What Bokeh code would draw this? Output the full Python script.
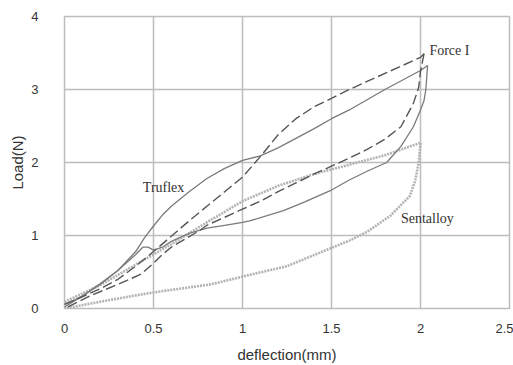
from bokeh.plotting import figure
from bokeh.models import FixedTicker, Label, Range1d
from bokeh.embed import file_html
from bokeh.resources import INLINE

# Truflex (solid) - loading then unloading
truflex_load_x = [0.0, 0.1, 0.2, 0.3, 0.4, 0.45, 0.5, 0.55, 0.6, 0.7, 0.8, 0.9, 1.0, 1.1, 1.2, 1.3, 1.4, 1.5, 1.6, 1.7, 1.8, 1.9, 2.0, 2.04]
truflex_load_y = [0.05, 0.17, 0.33, 0.52, 0.78, 0.97, 1.13, 1.28, 1.4, 1.6, 1.78, 1.92, 2.03, 2.09, 2.2, 2.33, 2.46, 2.6, 2.72, 2.86, 3.0, 3.13, 3.26, 3.33]
truflex_unload_x = [2.04, 2.03, 2.02, 2.0, 1.96, 1.89, 1.81, 1.7, 1.6, 1.49, 1.35, 1.23, 1.04, 1.0, 0.9, 0.8, 0.7, 0.6, 0.55, 0.5, 0.47, 0.44, 0.4, 0.3, 0.2, 0.1, 0.0]
truflex_unload_y = [3.33, 3.0, 2.85, 2.72, 2.49, 2.22, 2.0, 1.88, 1.76, 1.61, 1.46, 1.34, 1.2, 1.18, 1.14, 1.1, 1.03, 0.92, 0.84, 0.8, 0.84, 0.84, 0.74, 0.52, 0.34, 0.17, 0.02]

# Force I (dashed)
force_load_x = [0.0, 0.1, 0.2, 0.3, 0.4, 0.5, 0.6, 0.7, 0.8, 0.9, 1.0, 1.1, 1.2, 1.3, 1.4, 1.5, 1.6, 1.7, 1.8, 1.9, 2.0, 2.02]
force_load_y = [0.06, 0.16, 0.27, 0.4, 0.58, 0.78, 0.99, 1.2, 1.4, 1.6, 1.8, 2.08, 2.38, 2.6, 2.76, 2.88, 3.0, 3.11, 3.22, 3.33, 3.44, 3.49]
force_unload_x = [2.02, 2.0, 1.99, 1.96, 1.89, 1.8, 1.7, 1.6, 1.5, 1.4, 1.3, 1.2, 1.1, 1.0, 0.9, 0.8, 0.76, 0.69, 0.6, 0.55, 0.5, 0.43, 0.3, 0.15, 0.0]
force_unload_y = [3.49, 3.25, 3.03, 2.81, 2.49, 2.32, 2.18, 2.06, 1.95, 1.84, 1.72, 1.6, 1.47, 1.36, 1.25, 1.14, 1.07, 0.97, 0.84, 0.74, 0.62, 0.47, 0.33, 0.18, 0.0]

# Sentalloy (dotted)
sent_load_x = [0.0, 0.2, 0.4, 0.5, 0.6, 0.8, 1.0, 1.2, 1.4, 1.6, 1.8, 2.0]
sent_load_y = [0.09, 0.32, 0.6, 0.74, 0.88, 1.18, 1.47, 1.68, 1.84, 1.97, 2.1, 2.27]
sent_unload_x = [2.0, 1.99, 1.97, 1.94, 1.83, 1.7, 1.6, 1.49, 1.25, 1.04, 0.82, 0.5, 0.26, 0.0]
sent_unload_y = [2.27, 2.0, 1.75, 1.54, 1.27, 1.05, 0.93, 0.82, 0.58, 0.46, 0.33, 0.22, 0.12, 0.0]

x_ticks = [0, 0.5, 1, 1.5, 2, 2.5]
x_tick_labels = ["0", "0.5", "1", "1.5", "2", "2.5"]
y_ticks = [0, 1, 2, 3, 4]
y_tick_labels = ["0", "1", "2", "3", "4"]

names = ["Force I", "Truflex", "Sentalloy"]
name_x = [2.05, 0.44, 1.89]
name_y = [3.54, 1.66, 1.23]

p = figure(width=513, height=365, output_backend="svg", toolbar_location=None,
           x_range=Range1d(0, 2.5), y_range=Range1d(0, 4),
           min_border_left=64, min_border_right=4, min_border_top=16, min_border_bottom=54)
p.outline_line_color = "#bdbdbd"
p.outline_line_width = 1.5
p.background_fill_color = "white"
p.border_fill_color = "white"

for ax in (p.xaxis[0], p.yaxis[0]):
    ax.axis_line_color = None
    ax.major_tick_line_color = None
    ax.minor_tick_line_color = None
    ax.major_label_text_font = "Liberation Sans"
    ax.major_label_text_font_size = "13px"
    ax.major_label_text_color = "#333333"
    ax.axis_label_text_font = "Liberation Sans"
    ax.axis_label_text_font_size = "15px"
    ax.axis_label_text_font_style = "normal"
    ax.axis_label_text_color = "#333333"

p.xaxis.ticker = FixedTicker(ticks=x_ticks)
p.xaxis.major_label_overrides = {t: l for t, l in zip(x_ticks, x_tick_labels)}
p.yaxis.ticker = FixedTicker(ticks=y_ticks)
p.yaxis.major_label_overrides = {t: l for t, l in zip(y_ticks, y_tick_labels)}
p.xaxis.major_label_standoff = 9
p.yaxis.major_label_standoff = 20
p.xaxis.axis_label = "deflection(mm)"
p.yaxis.axis_label = "Load(N)"
p.xaxis.axis_label_standoff = 10
p.yaxis.axis_label_standoff = 2

p.xgrid.grid_line_color = "#bdbdbd"
p.ygrid.grid_line_color = "#bdbdbd"
p.xgrid.grid_line_width = 1.5
p.ygrid.grid_line_width = 1.5

p.line(sent_load_x, sent_load_y, line_color="#b3b3b3", line_width=2.6, line_dash="2 1")
p.line(sent_unload_x, sent_unload_y, line_color="#b3b3b3", line_width=2.6, line_dash="2 1")
p.line(truflex_load_x, truflex_load_y, line_color="#7a7a7a", line_width=1.3)
p.line(truflex_unload_x, truflex_unload_y, line_color="#7a7a7a", line_width=1.3)
p.line(force_load_x, force_load_y, line_color="#555555", line_width=1.4, line_dash="10 4")
p.line(force_unload_x, force_unload_y, line_color="#555555", line_width=1.4, line_dash="10 4")

for n, x, y in zip(names, name_x, name_y):
    p.add_layout(Label(x=x, y=y, text=n, text_font="Liberation Serif", text_font_size="14px",
                       text_color="#333333", text_baseline="middle", text_align="left"))

open("out.html", "w").write(file_html(p, INLINE))
